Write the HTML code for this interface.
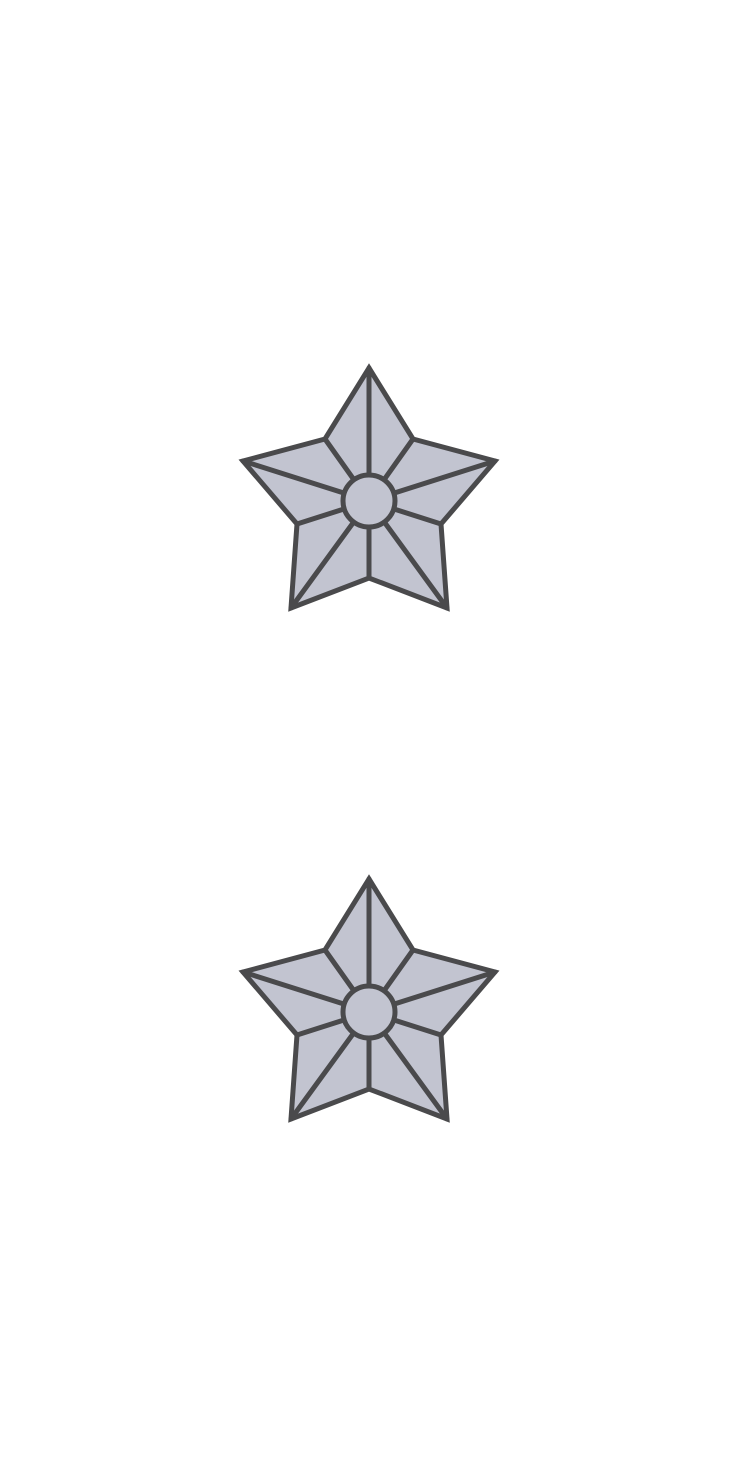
<!DOCTYPE html>
<html>
<head>
<meta charset="utf-8">
<style>
html,body{margin:0;padding:0;background:#fff;}
svg{display:block;}
</style>
</head>
<body>
<svg width="738" height="1476" viewBox="0 0 738 1476">
  <defs>
    <g id="star">
      <polygon points="369,368 413,439 495,461 441,524 447,608 369,578 291,608 297,524 243,461 325,439" fill="#c2c4d0" stroke="#4a4a4c" stroke-width="5" stroke-linejoin="miter"/>
      <g stroke="#4a4a4c" stroke-width="5" stroke-linecap="round">
        <line x1="369" y1="501" x2="369" y2="368"/>
        <line x1="369" y1="501" x2="495" y2="461"/>
        <line x1="369" y1="501" x2="447" y2="608"/>
        <line x1="369" y1="501" x2="291" y2="608"/>
        <line x1="369" y1="501" x2="243" y2="461"/>
        <line x1="369" y1="501" x2="413" y2="439"/>
        <line x1="369" y1="501" x2="441" y2="524"/>
        <line x1="369" y1="501" x2="369" y2="578"/>
        <line x1="369" y1="501" x2="297" y2="524"/>
        <line x1="369" y1="501" x2="325" y2="439"/>
      </g>
      <circle cx="369" cy="501" r="26" fill="#c2c4d0" stroke="#4a4a4c" stroke-width="5"/>
    </g>
  </defs>
  <use href="#star"/>
  <use href="#star" transform="translate(0,511)"/>
</svg>
</body>
</html>
